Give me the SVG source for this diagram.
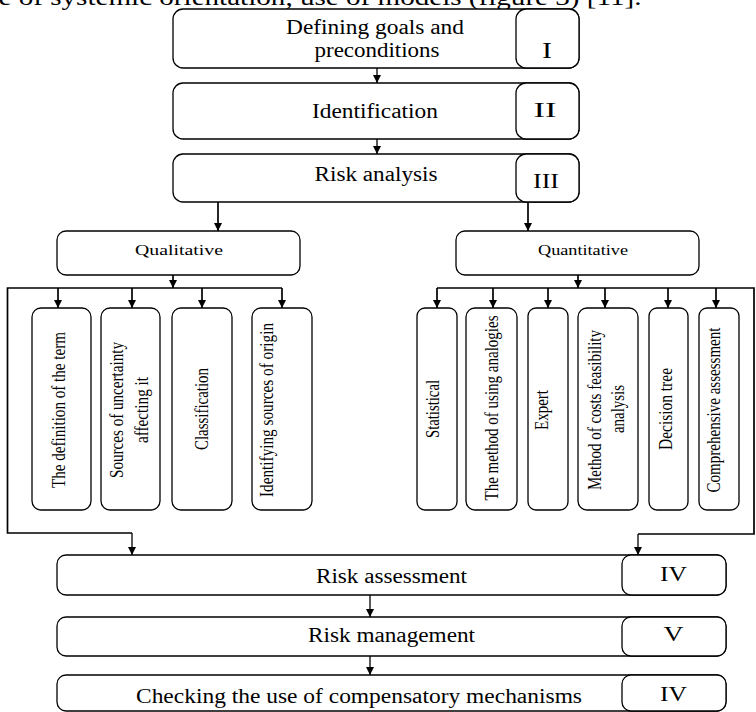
<svg xmlns="http://www.w3.org/2000/svg" width="756" height="712" viewBox="0 0 756 712">
<style>
  .box{fill:#fff;stroke:#000;stroke-width:1.3}
  text{font-family:'Liberation Serif','Times New Roman',Times,serif;fill:#000;text-anchor:middle}
  .m{font-size:20px}
  .r{font-size:22px}
  .s{font-size:15px}
  .v{font-size:18px}
  .c{fill:none;stroke:#000;stroke-width:1.3}
  .c2{fill:none;stroke:#000;stroke-width:1.7}
</style>
<defs>
  <marker id="ah" markerUnits="userSpaceOnUse" markerWidth="9" markerHeight="9" refX="8" refY="4" orient="auto">
    <path d="M0,0 L8,4 L0,8 z" fill="#000"/>
  </marker>
</defs>
<rect width="756" height="712" fill="#fff"/>
<text x="320" y="5" style="font-size:24px" textLength="643" lengthAdjust="spacingAndGlyphs">e of systemic orientation, use of models (figure 3) [11].</text>

<g id="connectors">
  <line class="c" x1="377" y1="68" x2="377" y2="83" marker-end="url(#ah)"/>
  <line class="c" x1="377" y1="139" x2="377" y2="154" marker-end="url(#ah)"/>
  <line class="c2" x1="218" y1="202" x2="218" y2="231" marker-end="url(#ah)"/>
  <line class="c2" x1="528" y1="202" x2="528" y2="231" marker-end="url(#ah)"/>
  <line class="c2" x1="173" y1="275" x2="173" y2="288" marker-end="url(#ah)"/>
  <line class="c2" x1="578" y1="275" x2="578" y2="288" marker-end="url(#ah)"/>
  <polyline class="c2" points="282,288 7.5,288 7.5,533 132,533"/>
  <line class="c" x1="132" y1="533" x2="132" y2="555" marker-end="url(#ah)"/>
  <polyline class="c2" points="437,288 754,288 754,534 638,534"/>
  <line class="c" x1="638" y1="534" x2="638" y2="555" marker-end="url(#ah)"/>
  <line class="c2" x1="58" y1="288" x2="58" y2="308" marker-end="url(#ah)"/>
  <line class="c2" x1="132" y1="288" x2="132" y2="308" marker-end="url(#ah)"/>
  <line class="c2" x1="202" y1="288" x2="202" y2="308" marker-end="url(#ah)"/>
  <line class="c2" x1="282" y1="288" x2="282" y2="308" marker-end="url(#ah)"/>
  <line class="c2" x1="437" y1="288" x2="437" y2="308" marker-end="url(#ah)"/>
  <line class="c2" x1="493" y1="288" x2="493" y2="308" marker-end="url(#ah)"/>
  <line class="c2" x1="548" y1="288" x2="548" y2="308" marker-end="url(#ah)"/>
  <line class="c2" x1="605" y1="288" x2="605" y2="308" marker-end="url(#ah)"/>
  <line class="c2" x1="668" y1="288" x2="668" y2="308" marker-end="url(#ah)"/>
  <line class="c2" x1="716" y1="288" x2="716" y2="308" marker-end="url(#ah)"/>
  <line class="c" x1="370" y1="595" x2="370" y2="617" marker-end="url(#ah)"/>
  <line class="c" x1="370" y1="656" x2="370" y2="675" marker-end="url(#ah)"/>
</g>

<g id="n1">
  <rect class="box" x="173" y="9" width="406" height="59" rx="10"/>
  <rect class="box" x="516" y="9" width="63" height="59" rx="10"/>
  <text class="m" x="375" y="34" textLength="178" lengthAdjust="spacingAndGlyphs">Defining goals and</text>
  <text class="m" x="377" y="57" textLength="125" lengthAdjust="spacingAndGlyphs">preconditions</text>
  <text x="547" y="58" style="font-size:24px" textLength="10" lengthAdjust="spacingAndGlyphs">I</text>
</g>
<g id="n2">
  <rect class="box" x="173" y="83" width="406" height="56" rx="10"/>
  <rect class="box" x="516" y="83" width="63" height="56" rx="10"/>
  <text class="m" x="375" y="118" textLength="126" lengthAdjust="spacingAndGlyphs">Identification</text>
  <text class="r" x="545" y="117" textLength="23" lengthAdjust="spacingAndGlyphs">II</text>
</g>
<g id="n3">
  <rect class="box" x="173" y="154" width="406" height="48" rx="10"/>
  <rect class="box" x="516" y="154" width="63" height="48" rx="10"/>
  <text class="m" x="376" y="181" textLength="123" lengthAdjust="spacingAndGlyphs">Risk analysis</text>
  <text class="r" x="546" y="188" textLength="26" lengthAdjust="spacingAndGlyphs">III</text>
</g>
<g id="qual">
  <rect class="box" x="57" y="231" width="243" height="44" rx="9"/>
  <text class="s" x="179" y="255" textLength="88" lengthAdjust="spacingAndGlyphs">Qualitative</text>
</g>
<g id="quan">
  <rect class="box" x="456" y="231" width="243" height="44" rx="9"/>
  <text class="s" x="583" y="255" textLength="90" lengthAdjust="spacingAndGlyphs">Quantitative</text>
</g>

<g id="l1">
  <rect class="box" x="32" y="308" width="59" height="202" rx="9"/>
  <text class="v" transform="translate(65,410) rotate(-90)" textLength="156" lengthAdjust="spacingAndGlyphs">The definition of the term</text>
</g>
<g id="l2">
  <rect class="box" x="101" y="308" width="59" height="202" rx="9"/>
  <text class="v" transform="translate(123,410) rotate(-90)" textLength="136" lengthAdjust="spacingAndGlyphs">Sources of uncertainty</text>
  <text class="v" transform="translate(148,410) rotate(-90)" textLength="66" lengthAdjust="spacingAndGlyphs">affecting it</text>
</g>
<g id="l3">
  <rect class="box" x="172" y="308" width="60" height="202" rx="9"/>
  <text class="v" transform="translate(208,409) rotate(-90)" textLength="82" lengthAdjust="spacingAndGlyphs">Classification</text>
</g>
<g id="l4">
  <rect class="box" x="252" y="308" width="60" height="202" rx="9"/>
  <text class="v" transform="translate(273,410) rotate(-90)" textLength="174" lengthAdjust="spacingAndGlyphs">Identifying sources of origin</text>
</g>

<g id="r1">
  <rect class="box" x="417" y="308" width="40" height="202" rx="8"/>
  <text class="v" transform="translate(439,409) rotate(-90)" textLength="58" lengthAdjust="spacingAndGlyphs">Statistical</text>
</g>
<g id="r2">
  <rect class="box" x="466" y="308" width="51" height="202" rx="9"/>
  <text class="v" transform="translate(498,408) rotate(-90)" textLength="185" lengthAdjust="spacingAndGlyphs">The method of using analogies</text>
</g>
<g id="r3">
  <rect class="box" x="528" y="308" width="40" height="202" rx="8"/>
  <text class="v" transform="translate(548,410) rotate(-90)" textLength="40" lengthAdjust="spacingAndGlyphs">Expert</text>
</g>
<g id="r4">
  <rect class="box" x="578" y="308" width="60" height="202" rx="9"/>
  <text class="v" transform="translate(601,410) rotate(-90)" textLength="160" lengthAdjust="spacingAndGlyphs">Method of costs feasibility</text>
  <text class="v" transform="translate(624,409) rotate(-90)" textLength="48" lengthAdjust="spacingAndGlyphs">analysis</text>
</g>
<g id="r5">
  <rect class="box" x="649" y="308" width="39" height="202" rx="8"/>
  <text class="v" transform="translate(672,409) rotate(-90)" textLength="82" lengthAdjust="spacingAndGlyphs">Decision tree</text>
</g>
<g id="r6">
  <rect class="box" x="699" y="308" width="40" height="202" rx="8"/>
  <text class="v" transform="translate(720,410) rotate(-90)" textLength="165" lengthAdjust="spacingAndGlyphs">Comprehensive assessment</text>
</g>

<g id="n4">
  <rect class="box" x="57" y="555" width="669" height="40" rx="9"/>
  <rect class="box" x="622" y="555" width="104" height="40" rx="9"/>
  <text class="m" x="391.5" y="583" textLength="151" lengthAdjust="spacingAndGlyphs">Risk assessment</text>
  <text class="r" x="673.5" y="581" textLength="27" lengthAdjust="spacingAndGlyphs">IV</text>
</g>
<g id="n5">
  <rect class="box" x="57" y="617" width="669" height="39" rx="9"/>
  <rect class="box" x="622" y="617" width="104" height="39" rx="9"/>
  <text class="m" x="391.5" y="642" textLength="167" lengthAdjust="spacingAndGlyphs">Risk management</text>
  <text class="r" x="673.5" y="641" textLength="20" lengthAdjust="spacingAndGlyphs">V</text>
</g>
<g id="n6">
  <rect class="box" x="57" y="675" width="669" height="36" rx="9"/>
  <rect class="box" x="622" y="675" width="104" height="36" rx="9"/>
  <text class="m" x="359" y="703" textLength="446" lengthAdjust="spacingAndGlyphs">Checking the use of compensatory mechanisms</text>
  <text class="r" x="673.5" y="701" textLength="27" lengthAdjust="spacingAndGlyphs">IV</text>
</g>
</svg>
